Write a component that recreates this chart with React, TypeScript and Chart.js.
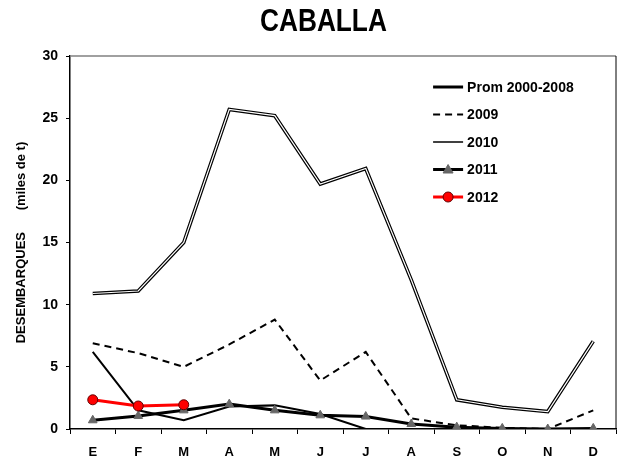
import React, { useEffect, useRef } from "react";
import { Chart, registerables } from "chart.js";

Chart.register(...registerables);

const chartTitle = "CABALLA";
const months = ["E", "F", "M", "A", "M", "J", "J", "A", "S", "O", "N", "D"];
const prom = [6.2, 1.5, 0.7, 1.8, 1.9, 1.2, 0, 0, 0, 0, 0, 0];
const y2009 = [6.9, 6.1, 5.0, 6.8, 8.8, 3.9, 6.2, 0.85, 0.3, 0.1, 0, 1.5];
const y2010 = [10.9, 11.1, 15.0, 25.7, 25.2, 19.7, 20.95, 12.0, 2.35, 1.75, 1.4, 7.05];
const y2011 = [0.7, 1.05, 1.5, 2.0, 1.5, 1.1, 1.0, 0.4, 0.15, 0.05, 0, 0.05];
const y2012 = [2.35, 1.85, 1.95];
const yTickValues = [0, 5, 10, 15, 20, 25, 30];

const FONT = "'Liberation Sans', Arial, Helvetica, sans-serif";

const narrowTitle = {
  id: "narrowTitle",
  afterDraw(chart: any) {
    const { ctx } = chart;
    ctx.save();
    ctx.font = `bold 32px ${FONT}`;
    ctx.fillStyle = "#000";
    ctx.textAlign = "center";
    ctx.textBaseline = "alphabetic";
    ctx.translate(chart.width * 0.52, 31);
    ctx.scale(0.82, 1);
    ctx.fillText(chartTitle, 0, 0);
    ctx.restore();
  },
};

const frameLines = {
  id: "frameLines",
  beforeDatasetsDraw(chart: any) {
    const { ctx, chartArea } = chart;
    ctx.save();
    ctx.lineWidth = 1.5;
    ctx.strokeStyle = "#808080";
    ctx.beginPath();
    ctx.moveTo(chartArea.left, chartArea.top);
    ctx.lineTo(chartArea.right, chartArea.top);
    ctx.stroke();
    ctx.lineWidth = 1;
    ctx.strokeStyle = "#000";
    ctx.beginPath();
    ctx.moveTo(chartArea.right, chartArea.top);
    ctx.lineTo(chartArea.right, chartArea.bottom);
    ctx.stroke();
    ctx.restore();
  },
};

const insideLegend = {
  id: "insideLegend",
  afterDraw(chart: any) {
    const { ctx, chartArea } = chart;
    const items = chart.data.datasets
      .filter((d: any) => d.legendRank !== undefined)
      .sort((a: any, b: any) => a.legendRank - b.legendRank);
    const x0 = chartArea.left + (chartArea.right - chartArea.left) * 0.665;
    const lineLen = 30;
    const rowH = 27.5;
    let y = chartArea.top + 31;
    ctx.save();
    ctx.font = `bold 14px ${FONT}`;
    ctx.textBaseline = "middle";
    ctx.textAlign = "left";
    for (const d of items) {
      ctx.save();
      ctx.strokeStyle = d.borderColor;
      ctx.lineWidth = d.legendLineWidth ?? d.borderWidth;
      ctx.setLineDash(d.borderDash || []);
      ctx.beginPath();
      ctx.moveTo(x0, y);
      ctx.lineTo(x0 + lineLen, y);
      ctx.stroke();
      ctx.setLineDash([]);
      if (d.pointStyle && d.pointRadius > 0) {
        const r = d.pointRadius;
        const cx = x0 + lineLen / 2;
        ctx.fillStyle = d.pointBackgroundColor;
        ctx.strokeStyle = d.pointBorderColor;
        ctx.lineWidth = d.pointBorderWidth ?? 1;
        ctx.beginPath();
        if (d.pointStyle === "triangle") {
          ctx.moveTo(cx, y - r);
          ctx.lineTo(cx + r, y + r * 0.7);
          ctx.lineTo(cx - r, y + r * 0.7);
          ctx.closePath();
        } else {
          ctx.arc(cx, y, r, 0, Math.PI * 2);
        }
        ctx.fill();
        ctx.stroke();
      }
      ctx.restore();
      ctx.fillStyle = "#000";
      ctx.fillText(d.label, x0 + lineLen + 4, y + 1);
      y += rowH;
    }
    ctx.restore();
  },
};

export default function App() {
  const ref = useRef<HTMLCanvasElement | null>(null);

  useEffect(() => {
    if (!ref.current) return;
    Chart.defaults.font.family = FONT;
    Chart.defaults.color = "#000";
    const chart = new Chart(ref.current, {
      type: "line",
      data: {
        labels: months,
        datasets: [
          {
            label: "2012",
            data: y2012,
            borderColor: "#ff0000",
            borderWidth: 3,
            pointStyle: "circle",
            pointRadius: 5,
            pointBackgroundColor: "#ff0000",
            pointBorderColor: "#600000",
            pointBorderWidth: 1,
            tension: 0,
            legendRank: 5,
          } as any,
          {
            label: "2011",
            data: y2011,
            borderColor: "#000",
            borderWidth: 3,
            pointStyle: "triangle",
            pointRadius: 5,
            pointBackgroundColor: "#666666",
            pointBorderColor: "#666666",
            pointBorderWidth: 1,
            tension: 0,
            legendRank: 4,
          } as any,
          {
            label: "Prom 2000-2008",
            data: prom,
            borderColor: "#000",
            borderWidth: 2,
            legendLineWidth: 3,
            pointRadius: 0,
            tension: 0,
            legendRank: 1,
          } as any,
          {
            label: "2009",
            data: y2009,
            borderColor: "#000",
            borderWidth: 2,
            borderDash: [7, 5],
            pointRadius: 0,
            tension: 0,
            legendRank: 2,
          } as any,
          {
            label: "2010 inner",
            data: y2010,
            borderColor: "#fff",
            borderWidth: 1.2,
            pointRadius: 0,
            tension: 0,
          } as any,
          {
            label: "2010",
            data: y2010,
            borderColor: "#000",
            borderWidth: 3.6,
            legendLineWidth: 1.5,
            pointRadius: 0,
            tension: 0,
            legendRank: 3,
          } as any,
        ],
      },
      options: {
        animation: false,
        responsive: false,
        layout: { padding: { left: 0, right: 3, top: 56, bottom: 0 } },
        plugins: {
          legend: { display: false },
          tooltip: { enabled: false },
          title: { display: false },
        },
        scales: {
          x: {
            offset: true,
            grid: {
              offset: true,
              drawOnChartArea: false,
              drawTicks: true,
              tickLength: 5,
              color: "#000",
            },
            border: { display: true, color: "#000", width: 1.5 },
            ticks: {
              padding: 11,
              font: { size: 13, weight: "bold" },
              color: "#000",
              maxRotation: 0,
              autoSkip: false,
            },
            afterFit: (s: any) => {
              s.height = 37;
            },
          },
          y: {
            min: 0,
            max: 30,
            afterBuildTicks: (s: any) => {
              s.ticks = yTickValues.map((v) => ({ value: v }));
            },
            grid: {
              drawOnChartArea: false,
              drawTicks: true,
              tickLength: 4,
              color: "#000",
            },
            border: { display: true, color: "#000", width: 1.5 },
            ticks: {
              padding: 8,
              font: { size: 14, weight: "bold" },
              color: "#000",
            },
            title: {
              display: true,
              text: "DESEMBARQUES      (miles de t)",
              color: "#000",
              font: { size: 13, weight: "bold" },
              padding: { top: 14, bottom: 0 },
            },
            afterFit: (s: any) => {
              s.width = 70;
            },
          },
        },
      },
      plugins: [frameLines, insideLegend, narrowTitle],
    });
    return () => chart.destroy();
  }, []);

  return (
    <div style={{ position: "absolute", left: 0, top: 0, width: 622, height: 466, background: "#fff" }}>
      <canvas ref={ref} width={622} height={466} style={{ display: "block" }} />
    </div>
  );
}
